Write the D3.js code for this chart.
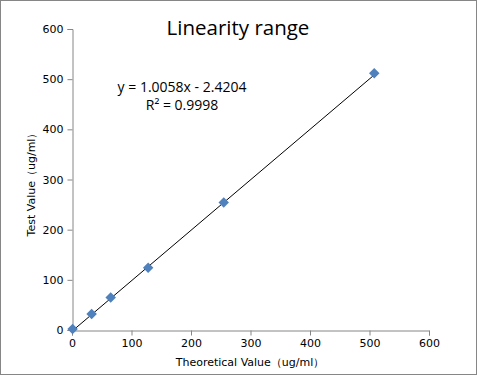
<!DOCTYPE html>
<html>
<head>
<meta charset="utf-8">
<script src="https://cdn.jsdelivr.net/npm/d3@7"></script>
<style>
  body { margin: 0; background: #fff; }
  svg { display: block; }
</style>
</head>
<body>
<svg id="chart" width="477" height="375"></svg>
<script>
// data
const theoretical = [1, 33, 65, 128, 255, 508];
const testValue = [2, 32, 65, 124, 254, 512];
const xTicks = [0, 100, 200, 300, 400, 500, 600];
const yTicks = [0, 100, 200, 300, 400, 500, 600];
const slope = 1.0058;
const intercept = -2.4204;
const equationLines = ["y = 1.0058x - 2.4204", "R² = 0.9998"];

const svg = d3.select("#chart");
const W = 477, H = 375;

// outer border
svg.append("rect")
    .attr("x", 0.5).attr("y", 0.5)
    .attr("width", W - 1).attr("height", H - 1)
    .attr("fill", "#fff")
    .attr("stroke", "#868686");

const x = d3.scaleLinear().domain([0, 600]).range([72, 429]);
const y = d3.scaleLinear().domain([0, 600]).range([330, 29]);

const axisColor = "#868686";
const font = "'DejaVu Sans', Verdana, sans-serif";

// x axis
const gx = svg.append("g")
    .attr("transform", "translate(0,330.5)")
    .call(d3.axisBottom(x).tickValues(xTicks).tickSize(5).tickPadding(4));
// y axis
const gy = svg.append("g")
    .attr("transform", "translate(72.5,0)")
    .call(d3.axisLeft(y).tickValues(yTicks).tickSize(5).tickPadding(4));

[gx, gy].forEach(g => {
    g.select(".domain").attr("stroke", axisColor);
    g.selectAll(".tick line").attr("stroke", axisColor);
    g.selectAll(".tick text")
        .attr("fill", "#000")
        .style("font-family", font)
        .style("font-size", "11px");
});

// trendline
const xMin = d3.min(theoretical), xMax = d3.max(theoretical);
svg.append("line")
    .attr("x1", x(xMin)).attr("y1", y(slope * xMin + intercept))
    .attr("x2", x(xMax)).attr("y2", y(slope * xMax + intercept))
    .attr("stroke", "#000")
    .attr("stroke-width", 1);

// points
const pts = theoretical.map((t, i) => ({ t, v: testValue[i] }));
svg.selectAll(".pt")
    .data(pts)
    .enter()
    .append("path")
    .attr("class", "pt")
    .attr("d", d3.symbol().type(d3.symbolDiamond2).size(70))
    .attr("transform", d => `translate(${x(d.t)},${y(d.v)})`)
    .attr("fill", "#4f81bd");

// title
svg.append("text")
    .attr("x", 238).attr("y", 35)
    .attr("text-anchor", "middle")
    .style("font-family", "'Open Sans', sans-serif")
    .style("font-size", "20.5px")
    .text("Linearity range");

// equation
svg.selectAll(".eq")
    .data(equationLines)
    .enter()
    .append("text")
    .attr("class", "eq")
    .attr("x", 182)
    .attr("y", (d, i) => 92 + i * 18)
    .attr("text-anchor", "middle")
    .style("font-family", "'Open Sans', sans-serif")
    .style("font-size", "14px")
    .text(d => d);

// axis titles
svg.append("text")
    .attr("x", 250).attr("y", 366)
    .attr("text-anchor", "middle")
    .style("font-family", font)
    .style("font-size", "11px")
    .text("Theoretical Value（ug/ml）");

svg.append("text")
    .attr("transform", "translate(35,182) rotate(-90)")
    .attr("text-anchor", "middle")
    .style("font-family", font)
    .style("font-size", "11px")
    .text("Test Value（ug/ml）");
</script>
</body>
</html>
